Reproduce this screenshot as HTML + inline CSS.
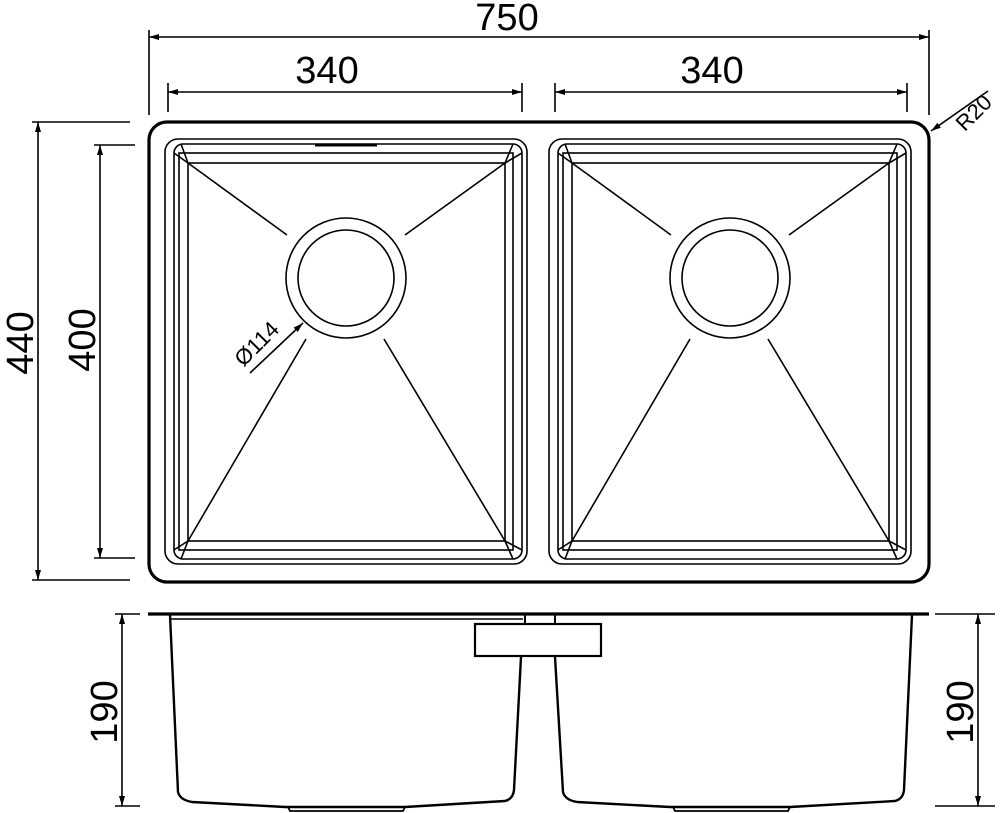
<!DOCTYPE html>
<html><head><meta charset="utf-8"><style>
html,body{margin:0;padding:0;background:#fff;}
svg{display:block}
text{font-family:"Liberation Sans Narrow","Liberation Sans",sans-serif;fill:#000;}
</style></head><body>
<svg width="1000" height="813" viewBox="0 0 1000 813" xmlns="http://www.w3.org/2000/svg">
<defs>
<marker id="ar" viewBox="0 0 10 10" refX="10" refY="5" markerWidth="10" markerHeight="10" orient="auto-start-reverse" markerUnits="userSpaceOnUse">
<path d="M0,2 L10,5 L0,8 z" fill="#000"/></marker>
<g id="bowl" fill="none" stroke="#000" stroke-width="1.6">
<rect x="165" y="139" width="362" height="425" rx="13"/>
<rect x="174" y="144" width="348" height="415" rx="9"/>
<rect x="179" y="153" width="334" height="397"/>
<rect x="188" y="163" width="317" height="378"/>
<line x1="174" y1="153" x2="188" y2="163"/><line x1="181" y1="144" x2="188" y2="163"/>
<line x1="522" y1="153" x2="505" y2="163"/><line x1="513" y1="144" x2="505" y2="163"/>
<line x1="174" y1="550" x2="188" y2="541"/><line x1="181" y1="559" x2="188" y2="541"/>
<line x1="522" y1="550" x2="505" y2="541"/><line x1="513" y1="559" x2="505" y2="541"/>
<circle cx="346" cy="278" r="60"/><circle cx="346" cy="278" r="48"/>
<line x1="188" y1="163" x2="287" y2="235"/>
<line x1="505" y1="163" x2="405" y2="235"/>
<line x1="188" y1="541" x2="306" y2="339"/>
<line x1="505" y1="541" x2="384" y2="339"/>
</g>
</defs>
<rect x="149" y="122" width="780" height="460" rx="18" fill="none" stroke="#000" stroke-width="3.2"/>
<use href="#bowl"/>
<use href="#bowl" x="384"/>
<line x1="315" y1="145" x2="377" y2="145" stroke="#000" stroke-width="3"/>
<g stroke="#000" stroke-width="1.6" fill="none">
<line x1="149" y1="30" x2="149" y2="115"/><line x1="929" y1="30" x2="929" y2="115"/>
<line x1="149" y1="37" x2="929" y2="37" marker-start="url(#ar)" marker-end="url(#ar)"/>
<line x1="168" y1="83" x2="168" y2="112"/><line x1="522" y1="83" x2="522" y2="112"/>
<line x1="168" y1="92" x2="522" y2="92" marker-start="url(#ar)" marker-end="url(#ar)"/>
<line x1="555" y1="83" x2="555" y2="112"/><line x1="907" y1="83" x2="907" y2="112"/>
<line x1="555" y1="92" x2="907" y2="92" marker-start="url(#ar)" marker-end="url(#ar)"/>
<line x1="32" y1="122" x2="130" y2="122"/><line x1="32" y1="580" x2="130" y2="580"/>
<line x1="38" y1="122" x2="38" y2="580" marker-start="url(#ar)" marker-end="url(#ar)"/>
<line x1="94" y1="145" x2="135" y2="145"/><line x1="94" y1="558" x2="135" y2="558"/>
<line x1="100" y1="145" x2="100" y2="558" marker-start="url(#ar)" marker-end="url(#ar)"/>
<line x1="988" y1="91" x2="931" y2="131" marker-end="url(#ar)"/>
<line x1="250" y1="373" x2="303" y2="323" marker-end="url(#ar)"/>
<line x1="115" y1="614" x2="140" y2="614"/><line x1="115" y1="806" x2="140" y2="806"/>
<line x1="122" y1="614" x2="122" y2="806" marker-start="url(#ar)" marker-end="url(#ar)"/>
<line x1="935" y1="614" x2="995" y2="614"/><line x1="935" y1="806" x2="995" y2="806"/>
<line x1="978" y1="614" x2="978" y2="806" marker-start="url(#ar)" marker-end="url(#ar)"/>
</g>
<text x="507" y="30" font-size="38" text-anchor="middle">750</text>
<text x="327" y="83" font-size="38" text-anchor="middle">340</text>
<text x="712" y="83" font-size="38" text-anchor="middle">340</text>
<text transform="translate(33,343) rotate(-90)" font-size="38" text-anchor="middle">440</text>
<text transform="translate(95,340) rotate(-90)" font-size="38" text-anchor="middle">400</text>
<text transform="translate(117,712) rotate(-90)" font-size="38" text-anchor="middle">190</text>
<text transform="translate(973,712) rotate(-90)" font-size="38" text-anchor="middle">190</text>
<text transform="translate(979,118) rotate(-45)" font-size="22" text-anchor="middle">R20</text>
<text transform="translate(262,349) rotate(-45)" font-size="22" text-anchor="middle">Ø114</text>
<g fill="none" stroke="#000">
<line x1="148" y1="614" x2="929" y2="614" stroke-width="3.2"/>
<line x1="170" y1="619" x2="523" y2="619" stroke-width="1.4"/>
<path d="M170,615 L178,792 Q180,800 192,802 L285,807 L405,807 L505,801 Q513,799 514,790 L521,657" stroke-width="2.4"/>
<path d="M288,807 L290,811 L403,811 L405,807" stroke-width="1.8"/>
<rect x="475" y="624" width="126" height="32" stroke-width="2.2"/>
<line x1="525" y1="615" x2="525" y2="624" stroke-width="2"/>
<line x1="555" y1="615" x2="555" y2="624" stroke-width="2"/>
<path d="M555,657 L563,792 Q565,800 577,802 L670,807 L790,807 L895,801 Q903,799 904,790 L912,615" stroke-width="2.4"/>
<path d="M673,807 L675,811 L788,811 L790,807" stroke-width="1.8"/>
</g>
</svg>
</body></html>
